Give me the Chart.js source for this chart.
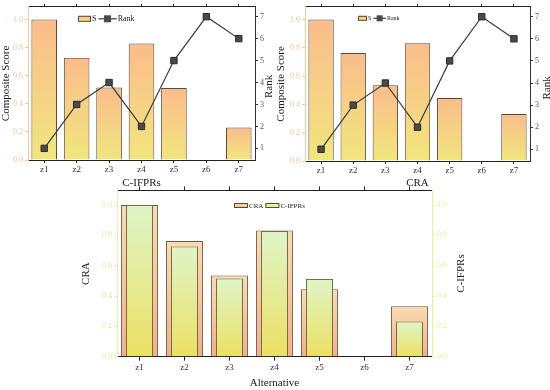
<!DOCTYPE html>
<html>
<head>
<meta charset="utf-8">
<title>Composite score and rank</title>
<script src="https://cdn.jsdelivr.net/npm/chart.js@4/dist/chart.umd.min.js"></script>
<style>
    body { margin: 0; background: #fff; width: 550px; height: 390px; position: relative; overflow: hidden; }
    canvas { position: absolute; }
</style>
</head>
<body>
<canvas id="chartCifpr" width="275" height="190" style="left:0;top:0"></canvas>
<canvas id="chartCra" width="275" height="190" style="left:275px;top:0"></canvas>
<canvas id="chartBoth" width="550" height="210" style="left:0;top:180px"></canvas>
<script>
const alternatives = ['z1', 'z2', 'z3', 'z4', 'z5', 'z6', 'z7'];
const scoreCifpr = [1.0, 0.727, 0.516, 0.829, 0.513, null, 0.232];
const rankCifpr = [1, 3, 4, 2, 5, 7, 6];
const scoreCra = [1.0, 0.763, 0.536, 0.833, 0.445, null, 0.332];
const rankCra = [1, 3, 4, 2, 5, 7, 6];
const scoreTicks = [0, 0.2, 0.4, 0.6, 0.8, 1.0];
const rankTicks = [1, 2, 3, 4, 5, 6, 7];

const serif = "'Liberation Serif', 'Times New Roman', serif";

// gradient painted per bar, from the top of the bar down to zero
function barGradient(axisId, topColor, bottomColor) {
    return function (ctx) {
        const chart = ctx.chart;
        if (!chart.chartArea || ctx.type !== 'data' || ctx.raw == null) return bottomColor;
        const scale = chart.scales[axisId];
        const yTop = scale.getPixelForValue(ctx.raw);
        const yBase = scale.getPixelForValue(0);
        const g = chart.ctx.createLinearGradient(0, yTop, 0, yBase);
        g.addColorStop(0, topColor);
        g.addColorStop(1, bottomColor);
        return g;
    };
}

function fixSize(size) {
    return function (scale) {
        if (scale.isHorizontal()) scale.height = size; else scale.width = size;
    };
}

// legend inside the plot, plus the right axis title read bottom to top
const insideLegend = {
    id: 'insideLegend',
    afterDatasetsDraw(chart, args, opts) {
        if (!opts.items) return;
        const c = chart.ctx;
        const a = chart.chartArea;
        c.save();
        c.font = opts.size + 'px ' + serif;
        c.textBaseline = 'middle';
        c.fillStyle = '#222';
        let x = a.left + opts.x;
        const y = a.top + opts.y;
        opts.items.forEach(item => {
            if (item.kind === 'box') {
                const g = c.createLinearGradient(0, y - opts.h / 2, 0, y + opts.h / 2);
                g.addColorStop(0, item.top);
                g.addColorStop(1, item.bottom);
                c.fillStyle = g;
                c.fillRect(x, y - opts.h / 2, opts.w, opts.h);
                c.strokeStyle = '#5a4a3a';
                c.lineWidth = 1;
                c.strokeRect(x + 0.5, y - opts.h / 2 + 0.5, opts.w - 1, opts.h - 1);
                x += opts.w + 1;
            } else {
                c.strokeStyle = '#3a3a3a';
                c.lineWidth = 1.2;
                c.beginPath();
                c.moveTo(x, y);
                c.lineTo(x + opts.w * 1.4, y);
                c.stroke();
                c.fillStyle = '#4a4a4a';
                const m = opts.h + 1;
                c.fillRect(x + opts.w * 0.7 - m / 2, y - m / 2, m, m);
                x += opts.w * 1.4 + 1;
            }
            c.fillStyle = '#222';
            c.fillText(item.text, x, y + 0.5);
            x += c.measureText(item.text).width + 2;
        });
        if (opts.rightTitle) {
            const t = opts.rightTitle;
            c.translate(a.right + t.dx, (a.top + a.bottom) / 2 + t.dy);
            c.rotate(-Math.PI / 2);
            c.font = '11px ' + serif;
            c.textAlign = 'center';
            c.fillStyle = '#222';
            c.fillText(t.text, 0, 0);
        }
        c.restore();
    }
};

function scoreRankConfig(scores, ranks, xTitle, sizes, legend) {
    return {
        data: {
            labels: alternatives,
            datasets: [
                {
                    type: 'line',
                    label: 'Rank',
                    data: ranks,
                    yAxisID: 'yRank',
                    order: 0,
                    borderColor: '#3a3a3a',
                    borderWidth: 1.2,
                    pointStyle: 'rect',
                    pointRadius: 4.5,
                    pointBackgroundColor: '#4a4a4a',
                    pointBorderColor: '#2a2a2a',
                    pointBorderWidth: 1
                },
                {
                    type: 'bar',
                    label: 'S',
                    data: scores,
                    yAxisID: 'yScore',
                    order: 1,
                    backgroundColor: barGradient('yScore', '#fbbc8c', '#f1e67e'),
                    borderColor: '#5a4a3a',
                    borderWidth: 1,
                    categoryPercentage: 1,
                    barPercentage: 0.79
                }
            ]
        },
        options: {
            responsive: false,
            animation: false,
            layout: { padding: 0 },
            plugins: {
                legend: { display: false },
                tooltip: { enabled: false },
                insideLegend: legend
            },
            scales: {
                x: {
                    position: 'bottom',
                    offset: true,
                    grid: { drawOnChartArea: false, offset: false, tickLength: 3, color: '#222' },
                    border: { color: '#222', width: 1 },
                    ticks: { color: '#333', font: { family: serif, size: 9 }, padding: 1, maxRotation: 0 },
                    title: { display: true, text: xTitle, color: '#222', font: { family: serif, size: 11 }, padding: 0 },
                    afterFit: fixSize(sizes.bottom)
                },
                xTop: {
                    type: 'category',
                    position: 'top',
                    offset: true,
                    grid: { drawOnChartArea: false, offset: false, tickLength: 3, color: '#222' },
                    border: { color: '#222', width: 1 },
                    ticks: { display: false },
                    afterFit: fixSize(sizes.top)
                },
                yScore: {
                    position: 'left',
                    min: 0,
                    max: 1.09,
                    grid: { drawOnChartArea: false, tickLength: 3, color: '#f6c69c' },
                    border: { color: '#f6c69c', width: 1 },
                    ticks: {
                        stepSize: 0.2,
                        includeBounds: false,
                        color: '#f4c49a',
                        padding: 2,
                        font: { family: serif, size: 8 },
                        callback: v => scoreTicks.some(t => Math.abs(t - v) < 1e-6) ? v.toFixed(1) : ''
                    },
                    title: { display: true, text: 'Composite Score', color: '#222', font: { family: serif, size: 11 }, padding: 0 },
                    afterFit: fixSize(sizes.left)
                },
                yRank: {
                    position: 'right',
                    min: 0.47,
                    max: 7.45,
                    grid: { drawOnChartArea: false, tickLength: 3, color: '#333' },
                    border: { color: '#333', width: 1 },
                    ticks: {
                        stepSize: 1,
                        includeBounds: false,
                        color: '#555',
                        padding: 2,
                        font: { family: serif, size: 8 },
                        callback: v => rankTicks.includes(v) ? String(v) : ''
                    },
                    title: { display: false },
                    afterFit: fixSize(sizes.right)
                }
            }
        },
        plugins: [insideLegend]
    };
}

const configCifpr = scoreRankConfig(scoreCifpr, rankCifpr, 'C-IFPRs',
    { left: 28, right: 20, top: 3, bottom: 30 },
    { x: 50, y: 12, w: 13, h: 6, size: 8, rightTitle: { text: 'Rank', dx: 14, dy: 3 }, items: [
        { kind: 'box', text: 'S', top: '#fbc08c', bottom: '#f3e07e' },
        { kind: 'line', text: 'Rank' }
    ] });

const configCra = scoreRankConfig(scoreCra, rankCra, 'CRA',
    { left: 30, right: 20, top: 4, bottom: 29 },
    { x: 53, y: 11.5, w: 9, h: 5, size: 6, rightTitle: { text: 'Rank', dx: 17, dy: 4 }, items: [
        { kind: 'box', text: 'S', top: '#fbc08c', bottom: '#f3e07e' },
        { kind: 'line', text: 'Rank' }
    ] });

const configBoth = {
    type: 'bar',
    data: {
        labels: alternatives,
        datasets: [
            {
                label: 'CRA',
                data: scoreCra,
                yAxisID: 'yCra',
                order: 2,
                grouped: false,
                backgroundColor: barGradient('yCra', '#f9dcb2', '#f3b088'),
                borderColor: '#6b5a4a',
                borderWidth: 1,
                categoryPercentage: 1,
                barPercentage: 0.82
            },
            {
                label: 'C-IFPRs',
                data: scoreCifpr,
                yAxisID: 'yCifpr',
                order: 1,
                grouped: false,
                backgroundColor: barGradient('yCifpr', '#dff5c8', '#ebe062'),
                borderColor: '#7a6a50',
                borderWidth: 1,
                categoryPercentage: 1,
                barPercentage: 0.6
            }
        ]
    },
    options: {
        responsive: false,
        animation: false,
        layout: { padding: { left: 80, right: 82, top: 0, bottom: 0 } },
        plugins: {
            legend: { display: false },
            tooltip: { enabled: false },
            insideLegend: { x: 117, y: 15, w: 14, h: 5, size: 7, rightTitle: { text: 'C-IFPRs', dx: 29, dy: 0 }, items: [
                { kind: 'box', text: 'CRA', top: '#f9d7ae', bottom: '#f5c08e' },
                { kind: 'box', text: 'C-IFPRs', top: '#e2f5b8', bottom: '#ecea86' }
            ] }
        },
        scales: {
            x: {
                position: 'bottom',
                offset: true,
                grid: { drawOnChartArea: false, offset: false, tickLength: 4, color: '#222' },
                border: { color: '#222', width: 1 },
                ticks: { color: '#333', font: { family: serif, size: 9 }, padding: 2, maxRotation: 0 },
                title: { display: true, text: 'Alternative', color: '#222', font: { family: serif, size: 11 }, padding: 0 },
                afterFit: fixSize(33.3)
            },
            xTop: {
                type: 'category',
                position: 'top',
                offset: true,
                grid: { drawOnChartArea: false, offset: false, tickLength: 4, color: '#222' },
                border: { color: '#222', width: 1 },
                ticks: { display: false },
                afterFit: fixSize(10.5)
            },
            yCra: {
                position: 'left',
                min: 0,
                max: 1.096,
                grid: { drawOnChartArea: false, tickLength: 3, color: '#f1e8b2' },
                border: { color: '#f1e8b2', width: 1 },
                ticks: {
                    stepSize: 0.2,
                    includeBounds: false,
                    color: '#efe3a6',
                    padding: 2,
                    font: { family: serif, size: 8 },
                    callback: v => scoreTicks.some(t => Math.abs(t - v) < 1e-6) ? v.toFixed(1) : ''
                },
                title: { display: true, text: 'CRA', color: '#222', font: { family: serif, size: 11 }, padding: 0 },
                afterFit: fixSize(37)
            },
            yCifpr: {
                position: 'right',
                min: 0,
                max: 1.096,
                grid: { drawOnChartArea: false, tickLength: 3, color: '#eeee9e' },
                border: { color: '#eeee9e', width: 1 },
                ticks: {
                    stepSize: 0.2,
                    includeBounds: false,
                    color: '#ecec9c',
                    padding: 2,
                    font: { family: serif, size: 8 },
                    callback: v => scoreTicks.some(t => Math.abs(t - v) < 1e-6) ? v.toFixed(1) : ''
                },
                title: { display: false },
                afterFit: fixSize(36)
            }
        }
    },
    plugins: [insideLegend]
};

let chartCifpr = document.getElementById('chartCifpr');
let chartCra = document.getElementById('chartCra');
let chartBoth = document.getElementById('chartBoth');

let oChartCifpr = new Chart(chartCifpr, configCifpr);
let oChartCra = new Chart(chartCra, configCra);
let oChartBoth = new Chart(chartBoth, configBoth);
</script>
</body>
</html>
